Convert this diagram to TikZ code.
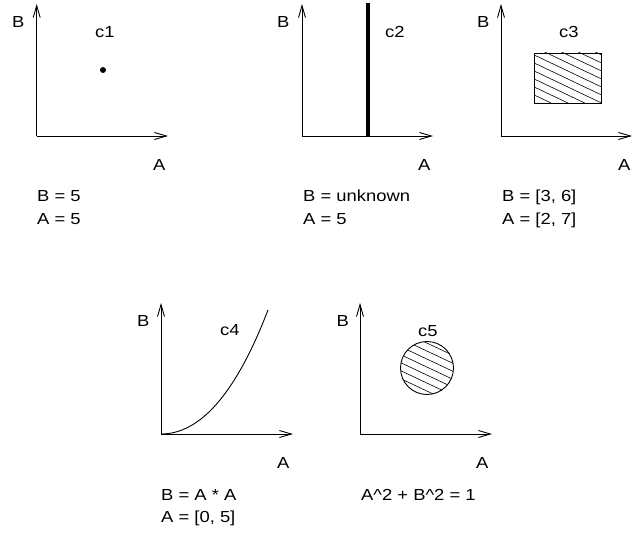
\documentclass[tikz,border=0pt]{standalone}
\usepackage{fontspec}
\setmainfont{Liberation Sans}[FakeStretch=1.15]
\usetikzlibrary{arrows.meta}
\begin{document}
\begin{tikzpicture}[x=1pt,y=-1pt,
  axis/.style={line width=0.9pt,-{Straight Barb[length=12pt,width=7pt,line width=0.9pt]}},
  lbl/.style={anchor=base west,inner sep=0pt,font=\fontsize{16}{19}\selectfont},
  hatch/.style={line width=0.6pt},
  outline/.style={line width=0.9pt}]
\useasboundingbox (0,0) rectangle (643,535);

% ---------- panel 1 ----------
\coordinate (o1) at (36.7,136);
\coordinate (y1) at (36.7,4);
\coordinate (x1) at (168,136);
\draw[axis] (o1) -- (y1);
\draw[axis] (o1) -- (x1);
\node[lbl] (b1) at (12,28) {B};
\node[lbl] (a1) at (153,170) {A};
\node[lbl] (c1) at (95,37.5) {c1};
\fill (103,70) circle (3pt);
\node[lbl] (t1a) at (37,201.5) {B = 5};
\node[lbl] (t1b) at (37,224) {A = 5};

% ---------- panel 2 ----------
\coordinate (o2) at (302,136);
\coordinate (y2) at (302,4);
\coordinate (x2) at (433,136);
\draw[axis] (o2) -- (y2);
\draw[axis] (o2) -- (x2);
\coordinate (l2a) at (368,136);
\coordinate (l2b) at (368,3);
\draw[line width=4pt] (l2a) -- (l2b);
\node[lbl] (b2) at (277,28) {B};
\node[lbl] (a2) at (418,170) {A};
\node[lbl] (c2) at (385,38) {c2};
\node[lbl] (t2a) at (303,201.5) {B = unknown};
\node[lbl] (t2b) at (303,224) {A = 5};

% ---------- panel 3 ----------
\coordinate (o3) at (501,136);
\coordinate (y3) at (501,4);
\coordinate (x3) at (632,136);
\draw[axis] (o3) -- (y3);
\draw[axis] (o3) -- (x3);
\begin{scope}
  \clip (534,53) rectangle (601,103);
  \foreach \k in {-72,-64,...,64}
    \draw[hatch] (530,53+\k) -- (610,91+\k);
\end{scope}
\draw[outline] (534,53) rectangle (601,103);
\node[lbl] (b3) at (477,28) {B};
\node[lbl] (a3) at (618,170) {A};
\node[lbl] (c3) at (559,38) {c3};
\node[lbl] (t3a) at (502,201.5) {B = [3, 6]};
\node[lbl] (t3b) at (502,224) {A = [2, 7]};

% ---------- panel 4 ----------
\coordinate (o4) at (161,434);
\coordinate (y4) at (161,303);
\coordinate (x4) at (293,434);
\draw[axis] (o4) -- (y4);
\draw[axis] (o4) -- (x4);
\coordinate (e4) at (268,310);
\draw[line width=0.9pt] (o4) .. controls (199,434) and (235,396) .. (e4);
\node[lbl] (b4) at (137,326) {B};
\node[lbl] (a4) at (277,468) {A};
\node[lbl] (c4) at (220,335.5) {c4};
\node[lbl] (t4a) at (161,500) {B = A * A};
\node[lbl] (t4b) at (161,522.5) {A = [0, 5]};

% ---------- panel 5 ----------
\coordinate (o5) at (360,434);
\coordinate (y5) at (360,303);
\coordinate (x5) at (492,434);
\draw[axis] (o5) -- (y5);
\draw[axis] (o5) -- (x5);
\begin{scope}
  \clip (427,368) circle (26.5);
  \foreach \k in {-72,-64,...,64}
    \draw[hatch] (395,368+\k) -- (465,401+\k);
\end{scope}
\draw[outline] (427,368) circle (26.5);
\node[lbl] (b5) at (336.5,326) {B};
\node[lbl] (a5) at (476,468) {A};
\node[lbl] (c5) at (418,336) {c5};
\node[lbl] (t5a) at (361,500) {A\char`\^2 + B\char`\^2 = 1};
\end{tikzpicture}
\end{document}
